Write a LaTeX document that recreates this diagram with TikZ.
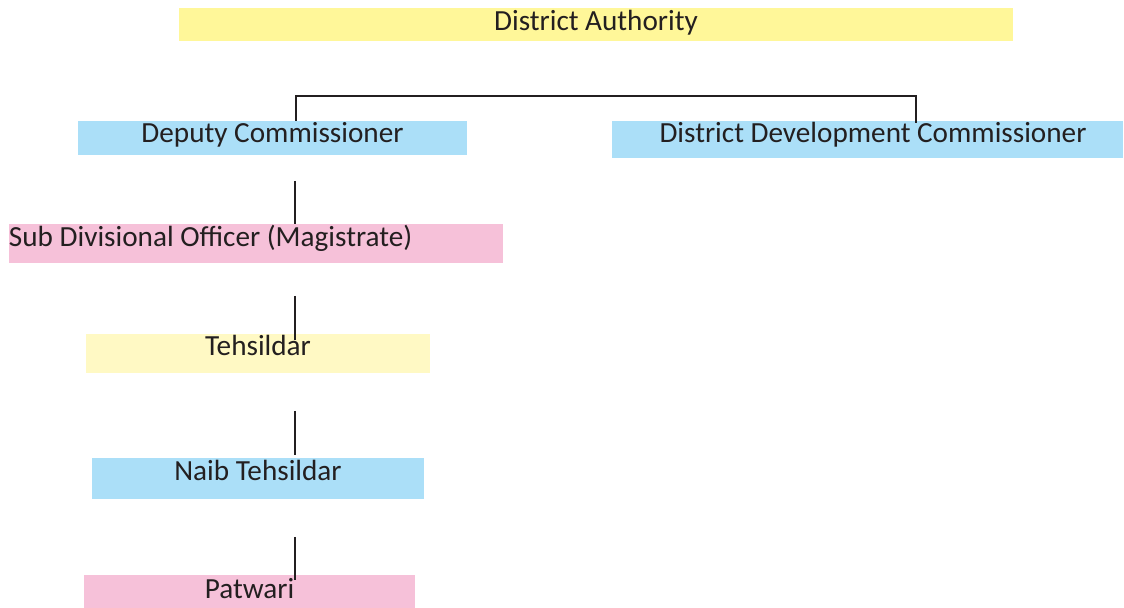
\documentclass[tikz,border=0pt]{standalone}
\usepackage{fontspec}
\setmainfont{Carlito}
\usetikzlibrary{calc}
\definecolor{cInk}{HTML}{231F20}
\definecolor{cYellow}{HTML}{FFF799}
\definecolor{cPale}{HTML}{FFF9C4}
\definecolor{cSky}{HTML}{ABDFF8}
\definecolor{cPink}{HTML}{F6C1D9}
\tikzset{
  obox/.style={fill=#1,draw=none,inner sep=0pt,font=\fontsize{14.6}{17}\selectfont,text=cInk,text height=9pt},
  obox/.default=cSky,
  conn/.style={draw=cInk,line width=1.4pt},
}
\begin{document}
\begin{tikzpicture}[x=0.5pt,y=-0.5pt]
  \useasboundingbox (0,0) rectangle (1124,608);
  % boxes
  \node[obox=cYellow,minimum width=417pt,minimum height=16.5pt,text depth=2.5pt] (da) at (596,24.5) {District Authority};
  \node[obox=cSky,minimum width=194.5pt,minimum height=17pt,text depth=4pt] (dc) at (272.5,138) {Deputy Commissioner};
  \node[obox=cSky,minimum width=255.5pt,minimum height=18.5pt,text depth=5.5pt] (ddc) at (867.5,139.5) {\hspace{5.5pt}District Development Commissioner};
  \node[obox=cPink,text width=247pt,align=flush left,minimum height=19.5pt,text depth=5.5pt] (sdo) at (256,243.5) {Sub Divisional Officer (Magistrate)};
  \node[obox=cPale,minimum width=172pt,minimum height=19.5pt,text depth=6.5pt] (teh) at (258,353.5) {Tehsildar};
  \node[obox=cSky,minimum width=166pt,minimum height=20.5pt,text depth=6.5pt] (naib) at (258,478.5) {Naib Tehsildar};
  \node[obox=cPink,minimum width=165.5pt,minimum height=16.5pt,text depth=2.5pt] (pat) at (249.5,591.5) {Patwari};
  % connectors
  \coordinate (brL) at (296,96);
  \coordinate (brR) at (916,96);
  \draw[conn] (dc.north -| brL) -- (brL) -- (brR) -- ($(ddc.north -| brR)+(0,2)$);
  \coordinate (s1) at (295,181);
  \coordinate (s2) at (295,296);
  \coordinate (s3) at (295,411);
  \coordinate (s4) at (295,537);
  \draw[conn] (s1) -- (sdo.north -| s1);
  \draw[conn] (s2) -- ($(teh.north -| s2)+(0,6)$);
  \draw[conn] (s3) -- ($(naib.north -| s3)+(0,-3)$);
  \draw[conn] (s4) -- ($(pat.north -| s4)+(0,5)$);
\end{tikzpicture}
\end{document}
